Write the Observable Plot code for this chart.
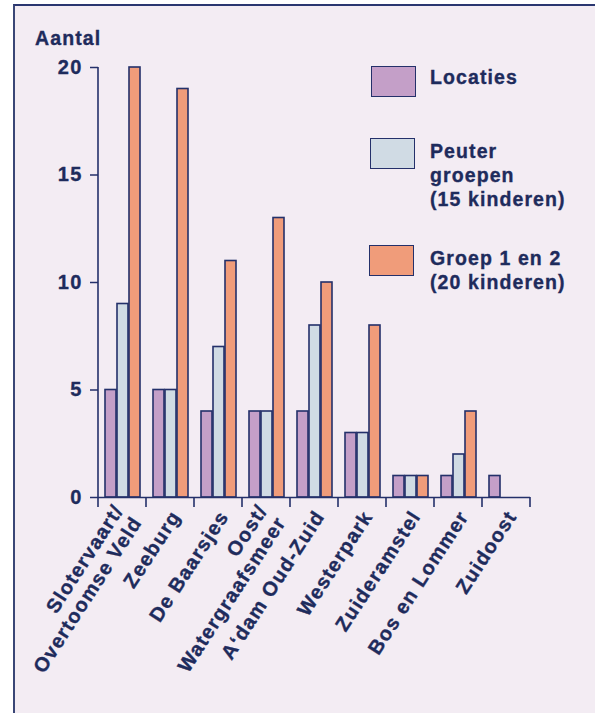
<!DOCTYPE html>
<html>
<head>
<meta charset="utf-8">
<script src="https://cdn.jsdelivr.net/npm/d3@7"></script>
<script src="https://cdn.jsdelivr.net/npm/@observablehq/plot@0.6"></script>
<style>
  body { margin: 0; background: #ffffff; }
  #wrap { position: relative; width: 595px; height: 713px; overflow: hidden; background: #ffffff;
          font-family: "Liberation Sans", Arial, sans-serif; font-weight: bold; color: #1e2b5c; letter-spacing: 1.1px;
          -webkit-text-stroke: 0.35px #1e2b5c; }
  #panel { position: absolute; left: 13px; top: 4px; width: 640px; height: 760px; background: #f3ecf3;
           border-left: 2px solid #3a4676; border-top: 2px solid #2a3670; -webkit-text-stroke: 0; }
  #chart { position: absolute; left: 0; top: 0; }
  #ylabel { position: absolute; left: 35px; top: 27px; font-size: 19.5px; }
  .leg { position: absolute; font-size: 19.5px; line-height: 24px; }
  .sw { position: absolute; width: 43px; height: 29px; border: 1.5px solid #24306a; }
</style>
</head>
<body>
<div id="wrap">
  <div id="panel"></div>
  <div id="chart"></div>
  <div id="ylabel">Aantal</div>
  <div id="legend"></div>
</div>
<script>
const districts = ["Slotervaart/\nOvertoomse Veld", "Zeeburg", "De Baarsjes", "Oost/\nWatergraafsmeer",
  "A\u2018dam Oud-Zuid", "Westerpark", "Zuideramstel", "Bos en Lommer", "Zuidoost"];
const series = ["Locaties", "Peuter groepen (15 kinderen)", "Groep 1 en 2 (20 kinderen)"];
const legendLines = [["Locaties"], ["Peuter", "groepen", "(15 kinderen)"], ["Groep 1 en 2", "(20 kinderen)"]];
const locaties = [5, 5, 4, 4, 4, 3, 1, 1, 1];
const peuter   = [9, 5, 7, 4, 8, 3, 1, 2, 0];
const groep    = [20, 19, 11, 13, 10, 8, 1, 4, 0];
const yTicks = [0, 5, 10, 15, 20];
const colors = ["#c49fc8", "#d0dbe4", "#f09c7a"];
const navy = "#24306a";
const textColor = "#1e2b5c";

const values = [locaties, peuter, groep];
const data = [];
districts.forEach((d, i) => series.forEach((s, j) => {
  if (values[j][i] > 0) data.push({district: d, series: s, value: values[j][i]});
}));

const plot = Plot.plot({
  width: 595,
  height: 713,
  marginLeft: 98,
  marginRight: 65,
  marginTop: 67,
  marginBottom: 216,
  style: {background: "transparent", fontFamily: "'Liberation Sans', Arial, sans-serif", color: textColor, letterSpacing: "1.2px"},
  fx: {domain: districts, padding: 0},
  x: {domain: series, paddingInner: 0.1, paddingOuter: 0.42, axis: null},
  y: {domain: [0, 20]},
  color: {domain: series, range: colors},
  marks: [
    Plot.axisY({ticks: yTicks, tickSize: 8, tickPadding: 8, fontSize: 20, fontWeight: "bold", label: null,
                stroke: navy, strokeWidth: 1.5, textStroke: textColor, textStrokeWidth: 0.35}),
    Plot.axisFx({tickRotate: -57, tickSize: 0, tickPadding: 15, fontSize: 20, fontWeight: "bold", label: null,
                 anchor: "bottom", dx: 5, lineHeight: 1.1, textStroke: textColor, textStrokeWidth: 0.35}),
    Plot.barY(data, {fx: "district", x: "series", y: "value", fill: "series", stroke: navy, strokeWidth: 1.6}),
    Plot.ruleY([0], {stroke: navy, strokeWidth: 1.6})
  ]
});
document.getElementById("chart").appendChild(plot);

// boundary ticks and vertical axis line, positioned with the plot's own scales
const fx = plot.scale("fx"), y = plot.scale("y");
const svg = d3.select(plot);
const bounds = districts.map(d => fx.apply(d)).concat([fx.apply(districts[districts.length - 1]) + fx.bandwidth]);
const y0 = y.apply(0), yTop = y.apply(20);
svg.append("g").selectAll("line").data(bounds).join("line")
  .attr("x1", d => d).attr("x2", d => d).attr("y1", y0).attr("y2", y0 + 10)
  .attr("stroke", navy).attr("stroke-width", 1.6);
svg.append("line").attr("x1", bounds[0]).attr("x2", bounds[0]).attr("y1", yTop).attr("y2", y0)
  .attr("stroke", navy).attr("stroke-width", 1.6);

// legend
const legend = document.getElementById("legend");
const swTops = [66, 138, 245];
const txtTops = [65, 139, 246];
legendLines.forEach((lines, i) => {
  const sw = document.createElement("div");
  sw.className = "sw";
  sw.style.left = (371 - i) + "px";
  sw.style.top = swTops[i] + "px";
  sw.style.background = colors[i];
  legend.appendChild(sw);
  const t = document.createElement("div");
  t.className = "leg";
  t.style.left = "430px";
  t.style.top = txtTops[i] + "px";
  t.innerHTML = lines.join("<br>");
  legend.appendChild(t);
});
</script>
</body>
</html>
